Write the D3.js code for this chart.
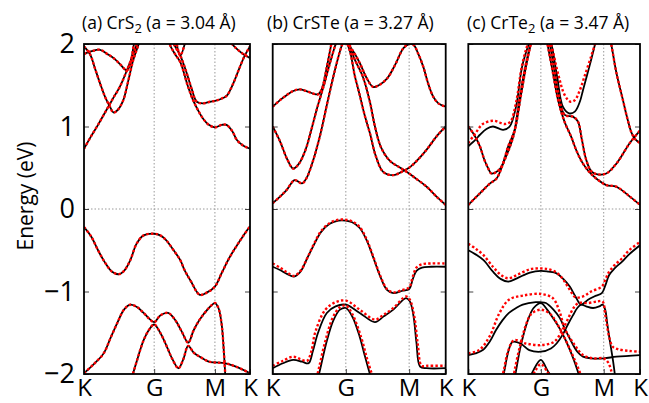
<!DOCTYPE html>
<html>

<head>
  <script src="https://d3js.org/d3.v7.min.js"></script>
  <style>
    body { margin: 0; background: #fff; }
    svg { font-family: 'Open Sans', sans-serif; }
  </style>
</head>

<body>
  <svg width="649" height="403"></svg>
</body>
<script>
  // high-symmetry path and energy ticks
  const kLabels = ['K', 'G', 'M', 'K'];
  const kTicks = [0, 1, 2, 3];
  const energyTicks = [-2, -1, 0, 1, 2];
  const titles = [
    ['(a) CrS', '2', ' (a = 3.04 Å)'],
    ['(b) CrSTe', '', ' (a = 3.27 Å)'],
    ['(c) CrTe', '2', ' (a = 3.47 Å)']
  ];

  // bands as [k, E]; k: 0 = K, 1 = G, 2 = M, 3 = K
  // (a) CrS2
  const a_v1 = [[0,-0.22],[0.1,-0.33],[0.2,-0.5],[0.3,-0.65],[0.4,-0.76],[0.5,-0.79],[0.58,-0.74],[0.66,-0.62],[0.75,-0.42],[0.85,-0.32],[1,-0.3],[1.1,-0.32],[1.2,-0.38],[1.3,-0.48],[1.43,-0.62],[1.5,-0.74],[1.6,-0.87],[1.75,-1.04],[1.85,-1.02],[2,-0.94],[2.2,-0.77],[2.4,-0.6],[2.6,-0.46],[2.8,-0.33],[3,-0.21]];
  const a_v2 = [[0,-1.99],[0.14,-1.88],[0.28,-1.75],[0.38,-1.56],[0.47,-1.39],[0.57,-1.22],[0.66,-1.16],[0.76,-1.19],[0.85,-1.26],[1,-1.37],[1.1,-1.29],[1.23,-1.26],[1.35,-1.35],[1.45,-1.48],[1.56,-1.62],[1.65,-1.47],[1.75,-1.34],[1.9,-1.2],[2,-1.14],[2.1,-1.2],[2.19,-1.39],[2.25,-1.7],[2.3,-2.05]];
  const a_v3 = [[0.68,-2.05],[0.75,-1.85],[0.85,-1.59],[0.93,-1.46],[1,-1.4],[1.1,-1.5],[1.21,-1.67],[1.3,-1.82],[1.4,-1.93],[1.48,-1.82],[1.56,-1.66],[1.65,-1.74],[1.75,-1.79],[1.9,-1.85],[2,-1.86],[2.3,-1.87],[2.6,-1.91],[3,-1.99]];
  const a_c1 = [[0,0.73],[0.1,0.88],[0.2,1.02],[0.32,1.2],[0.42,1.35],[0.51,1.48],[0.63,1.72],[0.75,1.99],[0.8,2.1]];
  const a_c2 = [[0,1.97],[0.09,1.87],[0.15,1.72],[0.23,1.52],[0.3,1.36],[0.37,1.24],[0.42,1.17],[0.48,1.2],[0.56,1.32],[0.63,1.55],[0.7,1.8],[0.78,2.0],[0.82,2.1]];
  const a_c3 = [[0,1.88],[0.1,1.91],[0.23,1.93],[0.33,1.88],[0.42,1.83],[0.52,1.75],[0.61,1.68],[0.66,1.76],[0.71,1.99],[0.74,2.1]];
  const a_c4 = [[1.22,2.1],[1.26,1.99],[1.35,1.87],[1.43,1.78],[1.55,1.5],[1.64,1.32],[1.72,1.2],[1.8,1.1],[1.9,1.02],[2,0.99],[2.2,1.02],[2.33,1.02],[2.5,0.94],[2.62,0.84],[2.8,0.77],[3,0.73]];
  const a_c5 = [[1.3,2.05],[1.33,1.99],[1.43,1.86],[1.53,1.66],[1.62,1.45],[1.7,1.3],[1.8,1.28],[1.92,1.3],[2,1.31],[2.2,1.34],[2.33,1.37],[2.5,1.5],[2.71,1.72],[2.85,1.86],[3,1.97]];
  const a_c6 = [[1.36,2.05],[1.43,1.86],[1.52,2.05]];
  const a_c7 = [[2.38,2.05],[2.6,1.95],[2.8,1.88],[3,1.83]];

  // (b) CrSTe
  const b_c1 = [[0,1.24],[0.1,1.32],[0.19,1.38],[0.28,1.43],[0.37,1.45],[0.46,1.43],[0.55,1.4],[0.62,1.39],[0.67,1.45],[0.74,1.72],[0.8,1.99],[0.83,2.1]];
  const b_c2 = [[1,2.02],[1.1,1.93],[1.22,1.77],[1.32,1.6],[1.43,1.48],[1.52,1.5],[1.65,1.58],[1.78,1.75],[1.91,1.95],[2,2.0],[2.12,1.99],[2.25,1.88],[2.39,1.72],[2.52,1.52],[2.66,1.36],[2.8,1.28],[3,1.24]];
  const b_c3 = [[0,1.0],[0.1,0.82],[0.2,0.6],[0.28,0.49],[0.36,0.55],[0.45,0.72],[0.51,0.9],[0.6,1.2],[0.7,1.5],[0.78,1.76],[0.85,1.97],[0.9,2.1]];
  const b_c4 = [[0,0.07],[0.1,0.15],[0.19,0.23],[0.3,0.35],[0.4,0.31],[0.46,0.37],[0.55,0.58],[0.65,0.9],[0.75,1.3],[0.85,1.68],[0.94,1.97],[1,2.1]];
  const b_c5 = [[1.0,2.05],[1.07,1.9],[1.14,1.62],[1.22,1.38],[1.3,1.13],[1.38,0.92],[1.47,0.65],[1.59,0.45],[1.75,0.41],[1.88,0.45],[2,0.5],[2.2,0.58],[2.48,0.72],[2.75,0.88],[3,1.0]];
  const b_c6 = [[1.04,2.05],[1.12,1.85],[1.27,1.6],[1.38,1.3],[1.46,1.0],[1.56,0.74],[1.7,0.58],[1.86,0.5],[2,0.43],[2.12,0.39],[2.48,0.27],[2.75,0.15],[3,0.05]];
  const b_v1 = [[0,-0.7],[0.1,-0.74],[0.2,-0.79],[0.29,-0.82],[0.38,-0.76],[0.47,-0.6],[0.56,-0.44],[0.66,-0.28],[0.78,-0.18],[0.9,-0.14],[1,-0.14],[1.1,-0.16],[1.22,-0.23],[1.33,-0.38],[1.43,-0.58],[1.55,-0.83],[1.65,-0.98],[1.75,-1.02],[1.9,-0.99],[2,-0.97],[2.1,-0.85],[2.2,-0.75],[2.35,-0.71],[2.6,-0.7],[3,-0.7]];
  const b_v2 = [[0,-1.93],[0.14,-1.87],[0.28,-1.83],[0.4,-1.85],[0.49,-1.87],[0.55,-1.72],[0.62,-1.5],[0.74,-1.26],[0.86,-1.18],[1,-1.16],[1.22,-1.26],[1.46,-1.37],[1.6,-1.3],[1.75,-1.22],[1.95,-1.08],[2.02,-1.12],[2.12,-1.3],[2.2,-1.62],[2.3,-1.91],[2.48,-1.93],[3,-1.93]];
  const b_v3 = [[0.62,-2.05],[0.66,-1.9],[0.74,-1.6],[0.83,-1.35],[0.92,-1.22],[1,-1.2],[1.1,-1.3],[1.22,-1.55],[1.3,-1.78],[1.38,-2.0],[1.42,-2.1]];
  const b_v1_red = [[0,-0.66],[0.1,-0.71],[0.2,-0.77],[0.29,-0.81],[0.38,-0.75],[0.47,-0.6],[0.56,-0.43],[0.66,-0.27],[0.78,-0.17],[0.9,-0.13],[1,-0.13],[1.1,-0.15],[1.22,-0.22],[1.33,-0.37],[1.43,-0.57],[1.55,-0.82],[1.65,-0.97],[1.75,-1.01],[1.9,-0.98],[2,-0.95],[2.1,-0.82],[2.2,-0.71],[2.35,-0.67],[2.6,-0.66],[3,-0.66]];
  const b_v2_red = [[0,-1.9],[0.14,-1.84],[0.28,-1.79],[0.38,-1.82],[0.47,-1.84],[0.53,-1.72],[0.58,-1.5],[0.72,-1.22],[0.86,-1.13],[1,-1.11],[1.22,-1.22],[1.46,-1.34],[1.6,-1.28],[1.75,-1.2],[1.95,-1.06],[2.02,-1.1],[2.14,-1.3],[2.24,-1.65],[2.34,-1.9],[2.5,-1.9],[3,-1.9]];
  const b_v3_red = [[0.6,-2.05],[0.64,-1.9],[0.72,-1.6],[0.82,-1.32],[0.92,-1.19],[1,-1.17],[1.1,-1.27],[1.24,-1.55],[1.33,-1.8],[1.41,-2.0],[1.45,-2.1]];

  // (c) CrTe2
  const c_c1 = [[0,0.76],[0.1,0.84],[0.16,0.9],[0.25,0.97],[0.34,1.0],[0.48,0.96],[0.57,1.0],[0.66,1.25],[0.74,1.72],[0.83,1.99],[0.88,2.1]];
  const c_c2 = [[0,0.05],[0.16,0.19],[0.3,0.31],[0.39,0.37],[0.48,0.55],[0.62,0.88],[0.7,1.3],[0.78,1.7],[0.86,2.0],[0.9,2.1]];
  const c_c3 = [[0,1.0],[0.08,0.9],[0.16,0.76],[0.22,0.6],[0.27,0.5],[0.32,0.43],[0.44,0.49],[0.55,0.76],[0.64,0.96],[0.72,1.35],[0.8,1.75],[0.86,2.0],[0.9,2.15]];
  const c_c4 = [[1.12,2.1],[1.17,1.99],[1.26,1.6],[1.35,1.24],[1.45,1.16],[1.54,1.18],[1.62,1.3],[1.67,1.44],[1.78,1.75],[1.86,1.99],[1.9,2.1]];
  const c_c5 = [[1.12,2.1],[1.2,1.75],[1.28,1.4],[1.38,1.14],[1.51,1.12],[1.59,1.06],[1.65,0.85],[1.72,0.6],[1.8,0.46],[1.9,0.42],[2.07,0.43],[2.35,0.55],[2.72,0.8],[3,0.95]];
  const c_c6 = [[1.08,2.1],[1.18,1.7],[1.28,1.3],[1.38,1.05],[1.48,0.88],[1.57,0.7],[1.67,0.55],[1.78,0.44],[1.88,0.37],[2.07,0.29],[2.35,0.27],[2.72,0.15],[3,0.05]];
  const c_c7 = [[2.15,2.1],[2.21,1.99],[2.35,1.65],[2.53,1.32],[2.65,1.1],[2.77,0.92],[2.88,0.84],[3,0.8]];
  const c_v1 = [[0,-0.5],[0.1,-0.55],[0.21,-0.62],[0.34,-0.76],[0.45,-0.85],[0.55,-0.88],[0.67,-0.84],[0.85,-0.77],[1,-0.75],[1.12,-0.76],[1.25,-0.78],[1.36,-0.85],[1.46,-0.94],[1.55,-1.06],[1.64,-1.16],[1.75,-1.1],[1.85,-1.06],[1.97,-1.02],[2.05,-0.92],[2.15,-0.8],[2.3,-0.72],[2.5,-0.64],[2.7,-0.55],[3,-0.44]];
  const c_v2 = [[0,-1.77],[0.1,-1.75],[0.2,-1.71],[0.3,-1.6],[0.38,-1.47],[0.47,-1.35],[0.56,-1.26],[0.66,-1.2],[0.75,-1.16],[0.93,-1.13],[1,-1.13],[1.08,-1.14],[1.2,-1.22],[1.3,-1.32],[1.38,-1.45],[1.48,-1.6],[1.58,-1.73],[1.67,-1.79],[1.8,-1.81],[2,-1.81],[2.35,-1.79],[3,-1.77]];
  const c_v3 = [[0.47,-2.1],[0.5,-1.95],[0.56,-1.7],[0.61,-1.61],[0.72,-1.63],[0.84,-1.71],[1,-1.73],[1.16,-1.69],[1.25,-1.63],[1.35,-1.52],[1.43,-1.4],[1.51,-1.29],[1.58,-1.2],[1.64,-1.16],[1.72,-1.18],[1.83,-1.2],[1.93,-1.18],[1.98,-1.16],[2.04,-1.22],[2.1,-1.4],[2.17,-1.6],[2.26,-1.85],[2.32,-2.05]];
  const c_v4 = [[0.63,-2.1],[0.66,-1.95],[0.72,-1.67],[0.82,-1.35],[0.9,-1.2],[1,-1.14],[1.1,-1.22],[1.2,-1.33],[1.3,-1.45],[1.4,-1.6],[1.5,-1.78],[1.58,-1.95],[1.62,-2.05]];
  const c_v5 = [[0.85,-2.05],[0.9,-1.95],[1,-1.83],[1.1,-1.95],[1.18,-2.05]];
  const c_c1_red = [[0,0.8],[0.1,0.92],[0.2,1.03],[0.35,1.07],[0.5,1.03],[0.58,1.06],[0.66,1.3],[0.74,1.74],[0.82,2.0],[0.87,2.1]];
  const c_c4_red = [[1.12,2.1],[1.17,1.98],[1.28,1.62],[1.38,1.38],[1.47,1.3],[1.54,1.32],[1.62,1.44],[1.7,1.62],[1.8,1.85],[1.87,2.02],[1.9,2.1]];
  const c_v1_red = [[0,-0.42],[0.1,-0.48],[0.21,-0.56],[0.34,-0.7],[0.45,-0.8],[0.55,-0.84],[0.67,-0.8],[0.85,-0.73],[1,-0.72],[1.12,-0.73],[1.25,-0.77],[1.36,-0.86],[1.46,-0.98],[1.55,-1.07],[1.67,-1.06],[1.8,-1.0],[1.97,-0.94],[2.05,-0.85],[2.15,-0.76],[2.3,-0.68],[2.5,-0.6],[2.7,-0.5],[3,-0.4]];
  const c_v2_red = [[0,-1.75],[0.15,-1.71],[0.29,-1.55],[0.43,-1.26],[0.56,-1.1],[0.75,-1.05],[1,-1.03],[1.19,-1.08],[1.3,-1.25],[1.38,-1.45],[1.54,-1.65],[1.67,-1.77],[1.83,-1.81],[2,-1.81],[2.12,-1.86],[2.2,-1.95],[2.26,-2.1]];
  const c_v3_red = [[0.45,-2.1],[0.49,-1.95],[0.55,-1.72],[0.63,-1.59],[0.79,-1.63],[1,-1.65],[1.21,-1.61],[1.32,-1.5],[1.42,-1.35],[1.52,-1.2],[1.6,-1.14],[1.75,-1.14],[1.9,-1.12],[1.98,-1.12],[2.05,-1.3],[2.15,-1.55],[2.25,-1.67],[2.4,-1.7],[2.7,-1.72],[3,-1.73]];
  const c_v4_red = [[0.61,-2.1],[0.64,-1.95],[0.71,-1.67],[0.8,-1.39],[0.87,-1.27],[1,-1.22],[1.16,-1.28],[1.25,-1.38],[1.35,-1.52],[1.45,-1.68],[1.55,-1.85],[1.62,-1.98],[1.66,-2.1]];
  const c_v5_red = [[0.87,-2.05],[0.93,-1.95],[1,-1.88],[1.1,-1.97],[1.16,-2.05]];

  const panels = [
    { id: 'a', x0: 84, x1: 250, titleX: 82, showY: true,
      black: [a_v1, a_v2, a_v3, a_c1, a_c2, a_c3, a_c4, a_c5, a_c6, a_c7],
      red: [a_v1, a_v2, a_v3, a_c1, a_c2, a_c3, a_c4, a_c5, a_c6, a_c7] },
    { id: 'b', x0: 272.7, x1: 445.7, titleX: 267, showY: false,
      black: [b_c1, b_c2, b_c3, b_c4, b_c5, b_c6, b_v1, b_v2, b_v3],
      red: [b_c1, b_c2, b_c3, b_c4, b_c5, b_c6, b_v1_red, b_v2_red, b_v3_red] },
    { id: 'c', x0: 468.3, x1: 640, titleX: 467, showY: false,
      black: [c_c1, c_c2, c_c3, c_c4, c_c5, c_c6, c_c7, c_v1, c_v2, c_v3, c_v4, c_v5],
      red: [c_c1_red, c_c2, c_c3, c_c4_red, c_c5, c_c6, c_c7, c_v1_red, c_v2_red, c_v3_red, c_v4_red, c_v5_red] }
  ];

  const svg = d3.select('svg');
  const yTop = 44;
  const yBottom = 374;
  const y = d3.scaleLinear().domain([-2, 2]).range([yBottom, yTop]);

  // K-G, G-M, M-K lengths of the hexagonal zone
  const seg = [4 / 3, 2 / Math.sqrt(3), 2 / 3];
  const segTotal = d3.sum(seg);

  panels.forEach((p, i) => {
    const w = p.x1 - p.x0;
    const x = d3.scaleLinear()
      .domain(kTicks)
      .range([p.x0, p.x0 + w * seg[0] / segTotal, p.x0 + w * (seg[0] + seg[1]) / segTotal, p.x1]);

    svg.append('clipPath').attr('id', 'clip-' + p.id)
      .append('rect')
      .attr('x', p.x0).attr('y', yTop)
      .attr('width', w).attr('height', yBottom - yTop);

    const g = svg.append('g');

    // dotted grid at G, M and E = 0
    g.selectAll('.vgrid')
      .data([1, 2])
      .enter()
      .append('line')
      .attr('x1', d => x(d)).attr('x2', d => x(d))
      .attr('y1', yTop).attr('y2', yBottom)
      .attr('stroke', '#999').attr('stroke-width', 1).attr('stroke-dasharray', '1.5 2');
    g.append('line')
      .attr('x1', p.x0).attr('x2', p.x1)
      .attr('y1', y(0)).attr('y2', y(0))
      .attr('stroke', '#999').attr('stroke-width', 1).attr('stroke-dasharray', '1.5 2');

    const line = d3.line()
      .x(d => x(d[0]))
      .y(d => y(d[1]))
      .curve(d3.curveCatmullRom.alpha(0.5));

    const bands = g.append('g').attr('clip-path', `url(#clip-${p.id})`);
    bands.selectAll('.black')
      .data(p.black)
      .enter()
      .append('path')
      .attr('d', line)
      .attr('fill', 'none')
      .attr('stroke', '#000')
      .attr('stroke-width', 1.8);
    bands.selectAll('.red')
      .data(p.red)
      .enter()
      .append('path')
      .attr('d', line)
      .attr('fill', 'none')
      .attr('stroke', '#ff0000')
      .attr('stroke-width', 2.4)
      .attr('stroke-dasharray', '2.4 2.2');

    // axes with inward ticks
    const left = g.append('g')
      .attr('transform', `translate(${p.x0},0)`)
      .attr('color', '#444')
      .call(d3.axisLeft(y).tickValues(energyTicks).tickSize(-5).tickSizeOuter(0).tickPadding(9)
        .tickFormat(p.showY ? d3.format('d') : () => ''));
    g.append('g')
      .attr('transform', `translate(${p.x1},0)`)
      .attr('color', '#444')
      .call(d3.axisRight(y).tickValues(energyTicks).tickSize(-5).tickSizeOuter(0).tickFormat(() => ''));
    const bottomAxis = g.append('g')
      .attr('transform', `translate(0,${yBottom})`)
      .attr('color', '#444')
      .call(d3.axisBottom(x).tickValues(kTicks).tickSize(-5).tickSizeOuter(0).tickPadding(5)
        .tickFormat(d => kLabels[d]));
    g.selectAll('.domain').remove();
    left.selectAll('text')
      .attr('fill', '#000')
      .style('font-family', "'Open Sans', sans-serif")
      .style('font-size', '27px');
    bottomAxis.selectAll('text')
      .attr('fill', '#000')
      .style('font-family', "'Open Sans', sans-serif")
      .style('font-size', '24px');

    g.append('rect')
      .attr('x', p.x0).attr('y', yTop)
      .attr('width', w).attr('height', yBottom - yTop)
      .attr('fill', 'none').attr('stroke', '#000').attr('stroke-width', 1.8);

    // panel title with subscript
    const t = svg.append('text')
      .attr('x', p.titleX)
      .attr('y', 29)
      .style('font-size', '17.5px');
    t.append('tspan').text(titles[i][0]);
    if (titles[i][1]) {
      t.append('tspan').attr('dy', 4).style('font-size', '13px').text(titles[i][1]);
      t.append('tspan').attr('dy', -4).text(titles[i][2]);
    } else {
      t.append('tspan').text(titles[i][2]);
    }
  });

  svg.append('text')
    .attr('transform', 'translate(33, 196) rotate(-90)')
    .attr('text-anchor', 'middle')
    .style('font-size', '21px')
    .text('Energy (eV)');
</script>

</html>
